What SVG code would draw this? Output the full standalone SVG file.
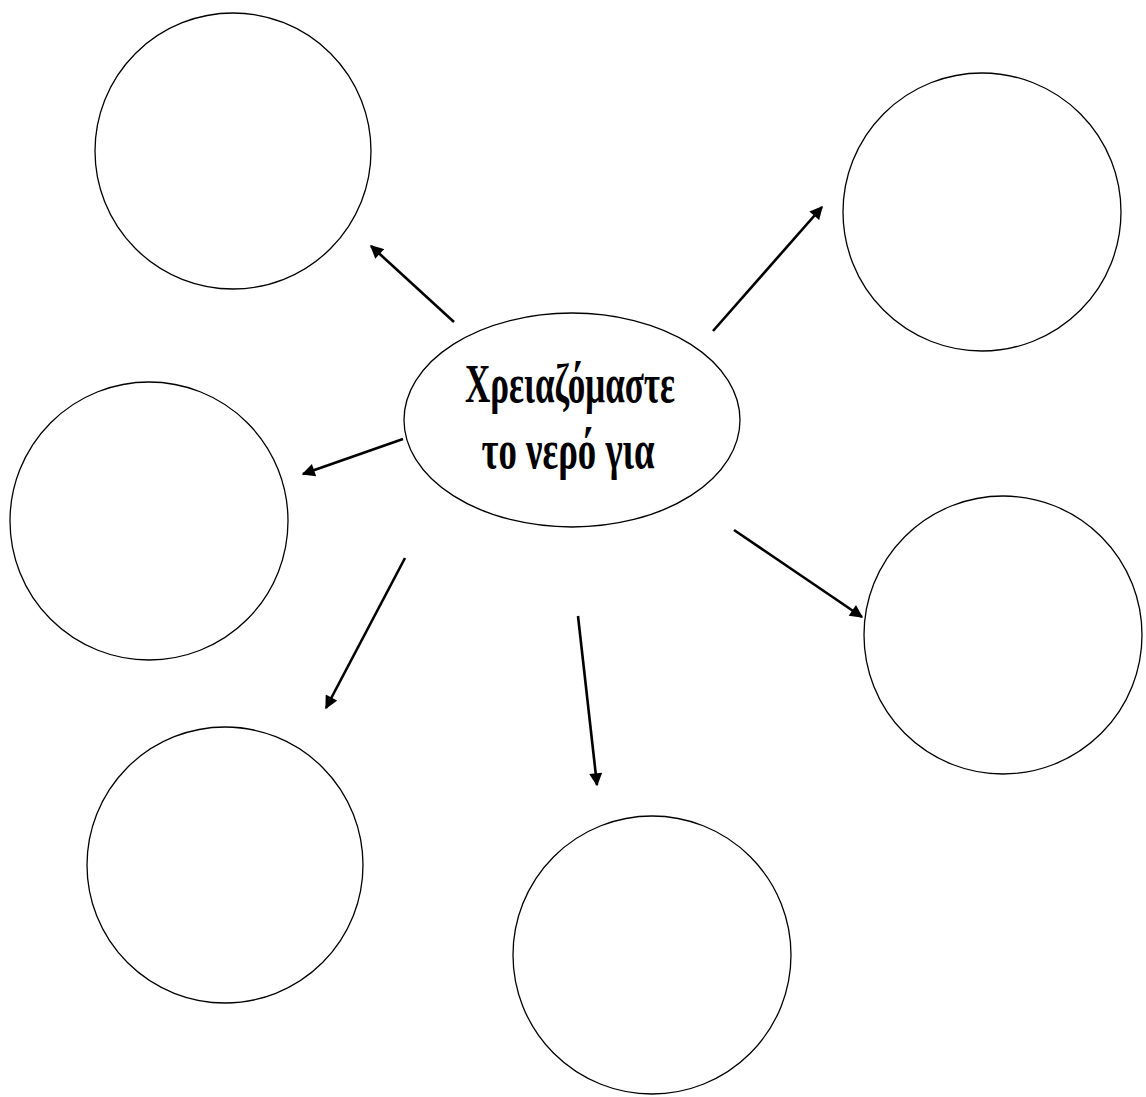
<svg xmlns="http://www.w3.org/2000/svg" width="1146" height="1097" viewBox="0 0 1146 1097">
<style>
.n{fill:#fff;stroke:#000;stroke-width:1.3}
.c line{stroke:#000;stroke-width:2.6;marker-end:url(#ah)}
.t{font-family:"Liberation Serif","Times New Roman",serif;font-weight:bold;font-size:54px;fill:#000}
</style>
<defs>
<marker id="ah" viewBox="0 0 10 10" refX="9" refY="5" markerWidth="5.5" markerHeight="5" markerUnits="strokeWidth" orient="auto">
<path d="M0,0 L10,5 L0,10 z" fill="#000"/>
</marker>
</defs>
<rect width="1146" height="1097" fill="#fff"/>
<g id="n1"><circle class="n" cx="233" cy="151" r="138"/></g>
<g id="n2"><circle class="n" cx="982" cy="212" r="139"/></g>
<g id="n3"><circle class="n" cx="149" cy="521" r="139"/></g>
<g id="n4"><circle class="n" cx="1003" cy="635" r="139"/></g>
<g id="n5"><circle class="n" cx="225" cy="865" r="138"/></g>
<g id="n6"><circle class="n" cx="652" cy="955" r="139"/></g>
<g id="center">
<ellipse class="n" cx="572" cy="420" rx="168" ry="107"/>
<text class="t" x="570" y="402" text-anchor="middle" textLength="210" lengthAdjust="spacingAndGlyphs">Χρειαζόμαστε</text>
<text class="t" x="568" y="468" text-anchor="middle" textLength="173" lengthAdjust="spacingAndGlyphs">το νερό για</text>
</g>
<g id="connectors" class="c">
<line x1="454" y1="322" x2="371" y2="246"/>
<line x1="713" y1="331" x2="822" y2="207"/>
<line x1="403" y1="439" x2="303" y2="474"/>
<line x1="405" y1="558" x2="326" y2="708"/>
<line x1="578" y1="616" x2="597" y2="785"/>
<line x1="734" y1="530" x2="862" y2="617"/>
</g>
</svg>
